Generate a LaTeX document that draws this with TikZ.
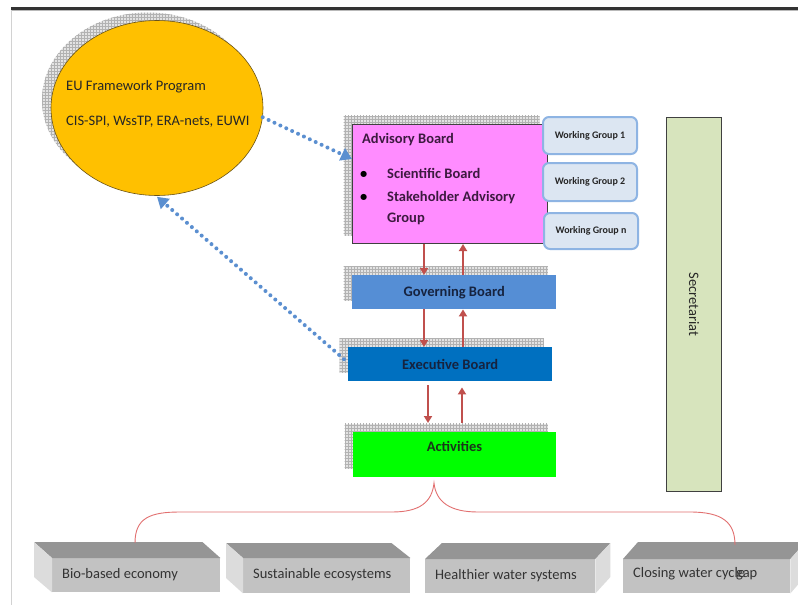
\documentclass[tikz,border=0pt]{standalone}
\usepackage{fontspec}
\setmainfont{Carlito}
\usetikzlibrary{shapes.geometric,arrows.meta,patterns,calc}
\pgfdeclarelayer{back}
\pgfdeclarelayer{bg}
\pgfsetlayers{back,bg,main}
\definecolor{euorange}{HTML}{FFC000}
\definecolor{euborder}{HTML}{6B5418}
\definecolor{advpink}{HTML}{FF8CFF}
\definecolor{advtext}{HTML}{3D1A40}
\definecolor{govblue}{HTML}{558ED5}
\definecolor{exeblue}{HTML}{0070C0}
\definecolor{navytext}{HTML}{16233F}
\definecolor{actgreen}{HTML}{00FF00}
\definecolor{acttext}{HTML}{1A361A}
\definecolor{wgfill}{HTML}{DCE6F2}
\definecolor{wgborder}{HTML}{8EB4E3}
\definecolor{secgreen}{HTML}{D7E4BD}
\definecolor{arrred}{HTML}{C0504D}
\definecolor{dotblue}{HTML}{5B8FD0}
\definecolor{bracered}{HTML}{E27070}
\definecolor{topgray}{HTML}{959595}
\definecolor{frontgray}{HTML}{C2C2C2}
\definecolor{sidegray}{HTML}{DCDCDC}
\definecolor{boxtextc}{HTML}{333333}
\newcommand{\fsz}{\fontsize{14.5}{17}\selectfont}
\begin{document}
\begin{tikzpicture}[x=1pt,y=-1pt,
  shadowfill/.style={fill=gray!22, postaction={pattern=grid, pattern color=gray!60}},
  plainbox/.style={rectangle, inner sep=0pt, anchor=north west},
  boardtxt/.style={font=\fsz\bfseries, text=navytext},
  wgbox/.style={rectangle, rounded corners=6pt, draw=wgborder, line width=2pt, fill=wgfill,
     minimum width=94pt, minimum height=37pt, anchor=north west, inner sep=0pt,
     font=\fontsize{10}{12}\selectfont\bfseries, text=black!85},
  redarr/.style={draw=arrred, line width=2.2pt, -{Triangle[width=8pt,length=7pt]}},
  dotarr/.style={draw=dotblue, line width=4pt, line cap=round, dash pattern=on 0pt off 6.5pt,
     -{Triangle[width=13pt,length=11pt]}},
  frontface/.style={rectangle, fill=frontgray, inner sep=0pt, anchor=north west},
  topface/.style={fill=topgray},
  sideface/.style={fill=sidegray},
  boxtext/.style={font=\fsz, text=boxtextc, anchor=base west, inner sep=0pt},
  advtxt/.style={font=\fsz\bfseries, text=advtext, anchor=base west, inner sep=0pt}
]
\useasboundingbox (0,0) rectangle (798,605);
\begin{pgfonlayer}{back}
\fill[white] (0,0) rectangle (798,605);
\end{pgfonlayer}
% frame
\fill[black!80] (11,7) rectangle (798,10);
\draw[gray!55, line width=0.8pt] (11,10.8) -- (798,10.8);
\draw[gray!35, line width=0.8pt] (11,10) -- (11,605);

% EU ellipse
\node[ellipse, draw=euborder, line width=0.6pt, fill=euorange, minimum width=212pt,
      minimum height=175pt, inner sep=0pt] (eu) at (157,108) {};
\node[font=\fsz, text=black!85, anchor=base west, inner sep=0pt] (eut1) at (66,90) {EU Framework Program};
\node[font=\fsz, text=black!85, anchor=base west, inner sep=0pt] (eut2) at (66,125) {CIS-SPI, WssTP, ERA-nets, EUWI};

% Advisory board
\node[plainbox, draw=black!75, line width=1pt, fill=advpink, minimum width=195pt, minimum height=119pt] (adv) at (352,124) {};
\node[advtxt] (advt) at (362,143) {Advisory Board};
\node[advtxt, text=black] (b1) at (360,178) {•};
\node[advtxt] (sb) at (387,178) {Scientific Board};
\node[advtxt, text=black] (b2) at (360,201) {•};
\node[advtxt] (sh1) at (387,201) {Stakeholder Advisory};
\node[advtxt] (sh2) at (387,222) {Group};

% Working groups
\node[wgbox] (wg1) at (542,116) {Working Group 1};
\node[wgbox, minimum height=38pt] (wg2) at (542,162) {Working Group 2};
\node[wgbox, minimum height=36pt] (wgn) at (543,212) {Working Group n};

% Governing / Executive / Activities
\node[plainbox, fill=govblue, minimum width=204pt, minimum height=34pt] (gov) at (352,275) {};
\node[boardtxt] (govt) at (gov.center) {Governing Board};
\node[plainbox, fill=exeblue, minimum width=204pt, minimum height=34pt] (exe) at (348,347) {};
\node[boardtxt] (exet) at (exe.center) {Executive Board};
\node[plainbox, fill=actgreen, minimum width=203pt, minimum height=45pt] (act) at (353,432) {};
\node[font=\fsz\bfseries, text=acttext] (actt) at (454.5,446) {Activities};

% Secretariat
\node[plainbox, draw=black!75, line width=1pt, fill=secgreen, minimum width=55pt, minimum height=374pt] (sec) at (666,117) {};
\node[font=\fsz, text=black!85, rotate=-90] (sect) at (sec.center) {Secretariat};

% shadows
\begin{pgfonlayer}{bg}
  \path[shadowfill] (eu.center) ++(-9,-8) ellipse [x radius=106, y radius=87.5];
  \foreach \n in {adv,gov,exe,act}{
    \path[shadowfill] ($(\n.north west)+(-8.5,-8.5)$) rectangle ($(\n.south east)+(-8.5,-8.5)$);
  }
\end{pgfonlayer}

% red arrows
\coordinate (xa) at (424,0);
\coordinate (xb) at (463,0);
\coordinate (xc) at (428,0);
\coordinate (xd) at (462,0);
\draw[redarr] (adv.south -| xa) -- (gov.north -| xa);
\draw[redarr] (gov.north -| xb) -- (adv.south -| xb);
\draw[redarr] (gov.south -| xa) -- (exe.north -| xa);
\draw[redarr] (exe.north -| xb) -- (gov.south -| xb);
\draw[redarr, shorten <=4pt, shorten >=9pt] (exe.south -| xc) -- (act.north -| xc);
\draw[redarr, shorten <=9pt, shorten >=6pt] (act.north -| xd) -- (exe.south -| xd);

% blue dotted arrows
\draw[dotarr] (eu.-5) -- ([yshift=25pt]adv.west);
\draw[dotarr] ([yshift=5pt,xshift=-4pt]exe.west) -- ([yshift=-1pt]eu.south);

% bottom boxes
\node[frontface, minimum width=168pt, minimum height=34pt] (bio) at (52,558) {};
\fill[topface] (bio.north west) -- ++(-18,-16) -- ($(bio.north east)+(-18,-16)$) -- (bio.north east) -- cycle;
\fill[sideface] (bio.north west) -- ++(-18,-16) -- ++(0,35) -- (bio.south west) -- cycle;
\node[boxtext] (biot) at (62,578) {Bio-based economy};

\node[frontface, minimum width=167pt, minimum height=35pt] (sus) at (243,558) {};
\fill[topface] (sus.north west) -- ++(-17,-15) -- ($(sus.north east)+(-19,-15)$) -- (sus.north east) -- cycle;
\fill[sideface] (sus.north west) -- ++(-17,-15) -- ++(0,35) -- (sus.south west) -- cycle;
\node[boxtext] (sust) at (253,578) {Sustainable ecosystems};

\node[frontface, minimum width=170pt, minimum height=34pt] (hea) at (425,559) {};
\fill[topface] (hea.north west) -- ++(17,-16) -- ($(hea.north east)+(15,-16)$) -- (hea.north east) -- cycle;
\fill[sideface] (hea.north east) -- ++(15,-16) -- ++(0,34) -- (hea.south east) -- cycle;
\node[boxtext] (heat) at (435,579) {Healthier water systems};

\node[frontface, minimum width=167pt, minimum height=34pt] (clo) at (623,559) {};
\fill[topface] (clo.north west) -- ++(15,-17) -- ($(clo.north east)+(15,-17)$) -- (clo.north east) -- cycle;
\fill[sideface] (clo.north east) -- ++(15,-17) -- ++(0,34) -- (clo.south east) -- cycle;
\node[boxtext] (clot) at (633,577) {Closing water cycle};
\node[boxtext] (gapt) at (736,577) {gap};

% brace
\coordinate (peak) at (434,483);
\coordinate (bstart) at (135,543);
\coordinate (bend) at (735,545);
\draw[bracered, line width=0.9pt]
  (bstart) .. controls (135,518) and (150,512) .. (180,512) -- (392,512)
  .. controls (420,512) and (432,502) .. (peak)
  .. controls (436,502) and (450,512) .. (478,512) -- (690,512)
  .. controls (722,512) and (735,522) .. (bend);
\end{tikzpicture}
\end{document}
